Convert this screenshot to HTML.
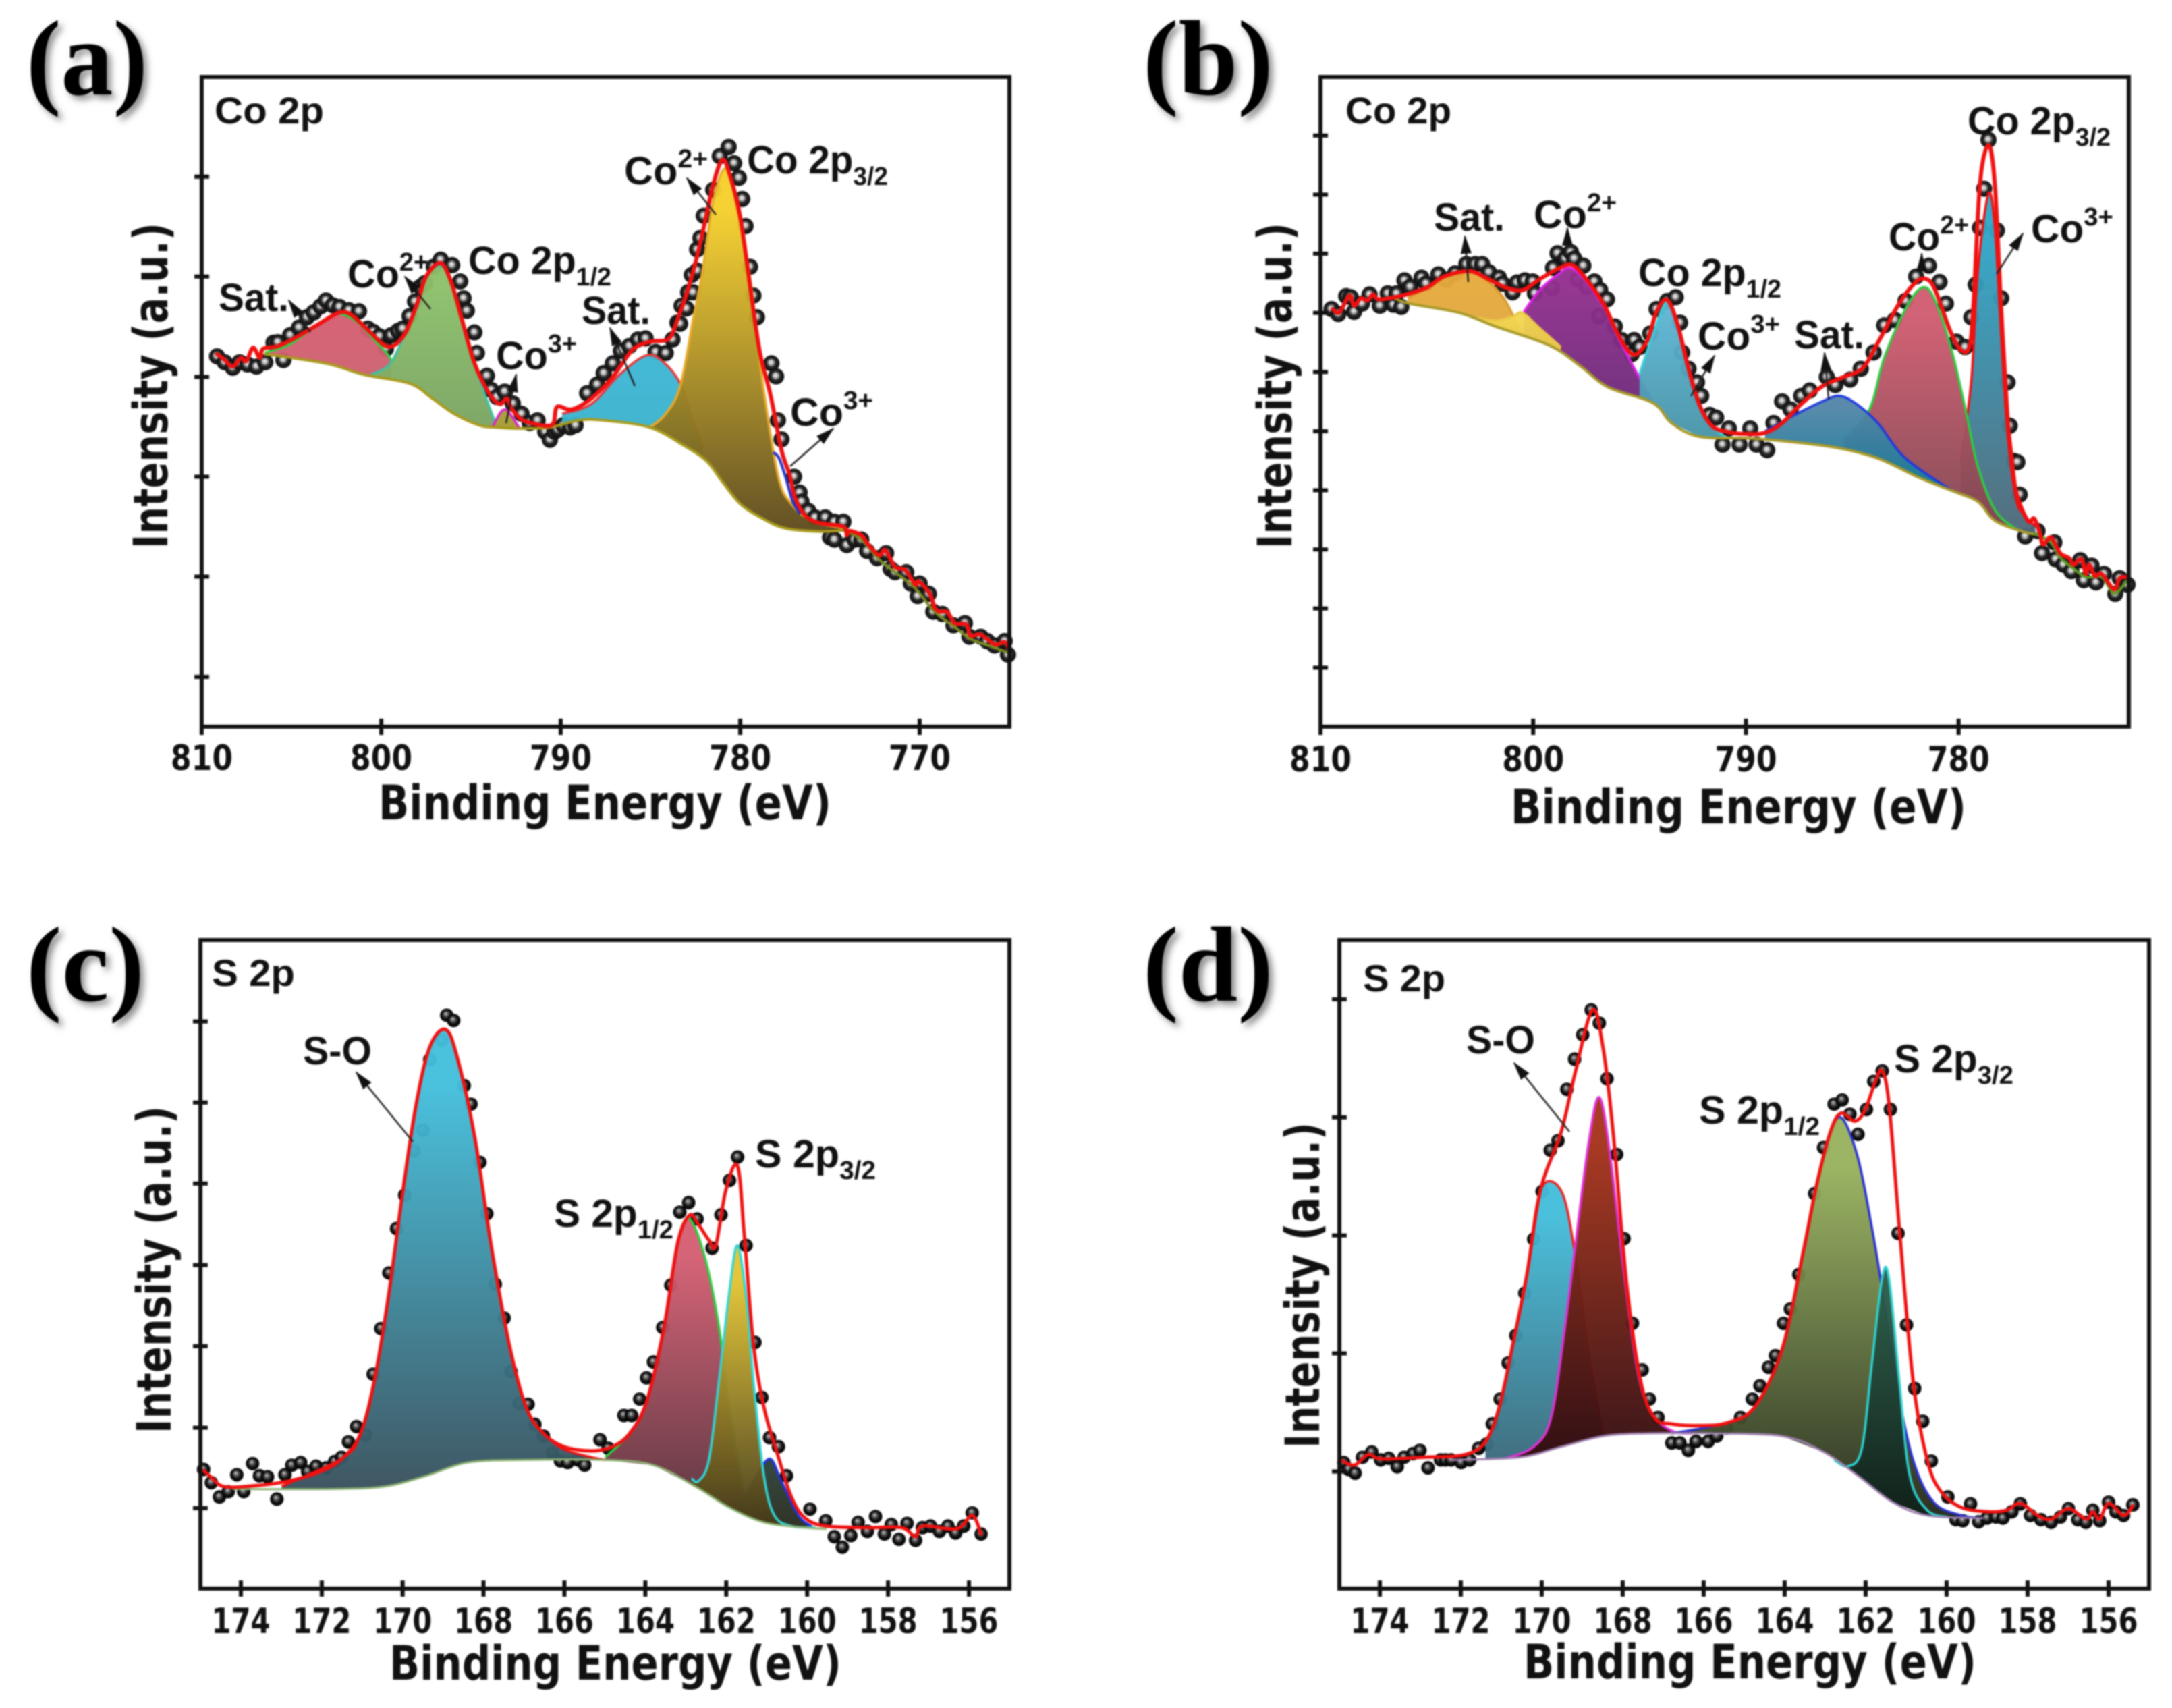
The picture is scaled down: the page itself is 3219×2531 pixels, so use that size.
<!DOCTYPE html>
<html lang="en">
<head>
<meta charset="utf-8">
<title>XPS spectra: Co 2p and S 2p</title>
<style>
html,body{margin:0;padding:0;background:#fff;}
body{width:3219px;height:2531px;overflow:hidden;}
svg{display:block;filter:blur(1.1px);}
.panel-letter{font-family:"Liberation Serif",serif;font-weight:700;font-size:159px;fill:#000;filter:url(#letter-shadow);}
.title{font-family:"Liberation Sans",sans-serif;font-weight:700;font-size:56px;fill:#111;}
.anno{font-family:"Liberation Sans",sans-serif;font-weight:700;font-size:58px;fill:#111;}
.small{font-size:38px;}
.axis-title{font-family:"DejaVu Sans",sans-serif;font-weight:700;font-size:70px;fill:#111;}
.tick-label{font-family:"DejaVu Sans",sans-serif;font-weight:700;font-size:52px;fill:#111;}
.arrow{stroke:#222;stroke-width:2.5;fill:none;marker-end:url(#arrow-head);}
</style>
</head>
<body>
<svg id="figure" xmlns="http://www.w3.org/2000/svg" width="3219" height="2531" viewBox="0 0 3219 2531">
<defs>
<filter id="letter-shadow" x="-20%" y="-20%" width="150%" height="150%"><feDropShadow dx="6" dy="6" stdDeviation="5" flood-color="#777" flood-opacity="0.85"/></filter>
<marker id="arrow-head" markerUnits="userSpaceOnUse" markerWidth="30" markerHeight="24" refX="26" refY="12" orient="auto"><path d="M0 4 L28 12 L0 20 Z" fill="#111"/></marker>
<radialGradient id="dot-gray" cx="50%" cy="50%" r="50%" fx="46%" fy="42%"><stop offset="0" stop-color="#f2f2f2"/><stop offset="0.28" stop-color="#bdbdbd"/><stop offset="0.55" stop-color="#2a2a2a"/><stop offset="1" stop-color="#0a0a0a"/></radialGradient>
<radialGradient id="dot-black" cx="50%" cy="50%" r="50%" fx="42%" fy="36%"><stop offset="0" stop-color="#cfcfcf"/><stop offset="0.35" stop-color="#555"/><stop offset="0.65" stop-color="#111"/><stop offset="1" stop-color="#000"/></radialGradient>
</defs>

<text class="panel-letter" x="39" y="140" textLength="180" lengthAdjust="spacingAndGlyphs">(a)</text>
<text class="panel-letter" x="1694" y="140" textLength="193" lengthAdjust="spacingAndGlyphs">(b)</text>
<text class="panel-letter" x="39" y="1483" textLength="175" lengthAdjust="spacingAndGlyphs">(c)</text>
<text class="panel-letter" x="1694" y="1483" textLength="193" lengthAdjust="spacingAndGlyphs">(d)</text>

<g id="plots"></g>

<!-- axis titles -->
<text class="axis-title" x="561" y="1214" textLength="671" lengthAdjust="spacingAndGlyphs">Binding Energy (eV)</text>
<text class="axis-title" x="2239" y="1220" textLength="675" lengthAdjust="spacingAndGlyphs">Binding Energy (eV)</text>
<text class="axis-title" x="577" y="2489" textLength="670" lengthAdjust="spacingAndGlyphs">Binding Energy (eV)</text>
<text class="axis-title" x="2258" y="2487" textLength="671" lengthAdjust="spacingAndGlyphs">Binding Energy (eV)</text>
<text class="axis-title" transform="translate(248,813) rotate(-90)" textLength="483" lengthAdjust="spacingAndGlyphs">Intensity (a.u.)</text>
<text class="axis-title" transform="translate(1914,813) rotate(-90)" textLength="483" lengthAdjust="spacingAndGlyphs">Intensity (a.u.)</text>
<text class="axis-title" transform="translate(253,2124) rotate(-90)" textLength="485" lengthAdjust="spacingAndGlyphs">Intensity (a.u.)</text>
<text class="axis-title" transform="translate(1955,2146) rotate(-90)" textLength="483" lengthAdjust="spacingAndGlyphs">Intensity (a.u.)</text>

<!-- panel a annotations -->
<g>
<text class="title" x="318" y="183" textLength="162" lengthAdjust="spacingAndGlyphs">Co 2p</text>
<text class="anno" x="324" y="461" textLength="104" lengthAdjust="spacingAndGlyphs">Sat.</text>
<text class="anno" x="515" y="426" textLength="120" lengthAdjust="spacingAndGlyphs">Co<tspan class="small" dy="-25">2+</tspan></text>
<text class="anno" x="694" y="406" textLength="212" lengthAdjust="spacingAndGlyphs">Co 2p<tspan class="small" dy="17">1/2</tspan></text>
<text class="anno" x="735" y="547" textLength="120" lengthAdjust="spacingAndGlyphs">Co<tspan class="small" dy="-25">3+</tspan></text>
<text class="anno" x="862" y="480" textLength="102" lengthAdjust="spacingAndGlyphs">Sat.</text>
<text class="anno" x="925" y="273" textLength="124" lengthAdjust="spacingAndGlyphs">Co<tspan class="small" dy="-25">2+</tspan></text>
<text class="anno" x="1107" y="257" textLength="209" lengthAdjust="spacingAndGlyphs">Co 2p<tspan class="small" dy="17">3/2</tspan></text>
<text class="anno" x="1171" y="631" textLength="123" lengthAdjust="spacingAndGlyphs">Co<tspan class="small" dy="-25">3+</tspan></text>
<line class="arrow" x1="460" y1="492" x2="428" y2="445"/>
<line class="arrow" x1="638" y1="458" x2="600" y2="410"/>
<line class="arrow" x1="750" y1="627" x2="765" y2="555"/>
<line class="arrow" x1="941" y1="572" x2="904" y2="486"/>
<line class="arrow" x1="1061" y1="318" x2="1018" y2="264"/>
<line class="arrow" x1="1171" y1="691" x2="1235" y2="635"/>
</g>

<!-- panel b annotations -->
<g>
<text class="title" x="1994" y="183" textLength="157" lengthAdjust="spacingAndGlyphs">Co 2p</text>
<text class="anno" x="2125" y="342" textLength="105" lengthAdjust="spacingAndGlyphs">Sat.</text>
<text class="anno" x="2273" y="338" textLength="123" lengthAdjust="spacingAndGlyphs">Co<tspan class="small" dy="-25">2+</tspan></text>
<text class="anno" x="2428" y="424" textLength="212" lengthAdjust="spacingAndGlyphs">Co 2p<tspan class="small" dy="17">1/2</tspan></text>
<text class="anno" x="2516" y="518" textLength="122" lengthAdjust="spacingAndGlyphs">Co<tspan class="small" dy="-25">3+</tspan></text>
<text class="anno" x="2659" y="516" textLength="104" lengthAdjust="spacingAndGlyphs">Sat.</text>
<text class="anno" x="2799" y="371" textLength="119" lengthAdjust="spacingAndGlyphs">Co<tspan class="small" dy="-25">2+</tspan></text>
<text class="anno" x="2916" y="199" textLength="212" lengthAdjust="spacingAndGlyphs">Co 2p<tspan class="small" dy="17">3/2</tspan></text>
<text class="anno" x="3010" y="359" textLength="122" lengthAdjust="spacingAndGlyphs">Co<tspan class="small" dy="-25">3+</tspan></text>
<line class="arrow" x1="2176" y1="418" x2="2171" y2="350"/>
<line class="arrow" x1="2323" y1="366" x2="2323" y2="338"/>
<line class="arrow" x1="2506" y1="587" x2="2541" y2="527"/>
<line class="arrow" x1="2710" y1="591" x2="2704" y2="523"/>
<line class="arrow" x1="2848" y1="404" x2="2848" y2="376"/>
<line class="arrow" x1="2959" y1="406" x2="2998" y2="346"/>
</g>

<!-- panel c annotations -->
<g>
<text class="title" x="314" y="1461" textLength="123" lengthAdjust="spacingAndGlyphs">S 2p</text>
<text class="anno" x="449" y="1577" textLength="102" lengthAdjust="spacingAndGlyphs">S-O</text>
<text class="anno" x="821" y="1818" textLength="177" lengthAdjust="spacingAndGlyphs">S 2p<tspan class="small" dy="17">1/2</tspan></text>
<text class="anno" x="1119" y="1730" textLength="179" lengthAdjust="spacingAndGlyphs">S 2p<tspan class="small" dy="17">3/2</tspan></text>
<line class="arrow" x1="612" y1="1692" x2="528" y2="1589"/>
</g>

<!-- panel d annotations -->
<g>
<text class="title" x="2020" y="1469" textLength="122" lengthAdjust="spacingAndGlyphs">S 2p</text>
<text class="anno" x="2173" y="1561" textLength="102" lengthAdjust="spacingAndGlyphs">S-O</text>
<text class="anno" x="2518" y="1665" textLength="179" lengthAdjust="spacingAndGlyphs">S 2p<tspan class="small" dy="17">1/2</tspan></text>
<text class="anno" x="2807" y="1589" textLength="177" lengthAdjust="spacingAndGlyphs">S 2p<tspan class="small" dy="17">3/2</tspan></text>
<line class="arrow" x1="2326" y1="1677" x2="2244" y2="1575"/>
</g>
</svg>

<script>
/* ---------- Panel A: Co 2p ---------- */
const aXTicks = [810, 800, 790, 780, 770];
const aYTicks = [1014, 830, 645, 461, 277, 92];
const aDotEnergy = [
809.15,808.72,808.27,807.89,807.45,806.95,806.46,806.0,805.76,805.45,
805.07,804.58,804.14,803.76,803.38,803.08,802.7,802.33,801.8,801.24,
800.75,800.45,800.1,799.74,799.44,799.06,798.8,798.42,798.12,797.82,
797.56,797.07,796.69,796.05,795.6,795.41,795.23,794.81,794.67,794.11,
793.87,793.55,793.12,792.67,792.18,791.73,791.29,790.86,790.6,790.35,
790.16,789.85,789.47,789.17,788.53,787.97,787.6,787.1,786.65,786.17,
785.7,785.27,784.71,784.15,783.77,783.5,783.35,783.27,783.0,782.9,
782.63,782.7,782.4,782.4,782.22,782.03,781.5,781.14,780.64,780.34,
780.08,779.89,779.7,779.45,779.26,779.07,778.26,778.0,777.9,777.7,
777.0,776.69,776.58,776.2,775.83,775.26,774.75,774.25,774.99,774.75,
774.06,773.62,773.25,772.93,772.37,771.87,771.62,771.37,770.75,770.49,
770.0,770.11,769.49,769.24,768.74,768.12,767.48,767.23,766.6,766.24,
765.83,765.26,765.08];
const aDotValue = [
683,672,662,672,668,664,672,708,709,676,
722,736,755,764,775,786,777,774,768,766,
734,728,720,697,722,730,734,757,784,811,
818,848,861,851,821,790,767,727,689,647,
621,608,618,596,577,560,565,544,529,544,
548,556,552,556,615,631,652,670,693,702,
714,716,691,689,714,745,743,776,771,801,
801,833,841,880,901,942,990,1052,1069,1039,
1012,973,923,848,795,755,670,646,565,530,
461,432,415,398,386,386,378,378,349,345,
335,345,345,324,311,320,291,285,285,264,
264,241,245,212,208,187,191,166,166,158,
150,158,133];
const aFitEnergy = [
809.15,808.77,808.27,807.83,807.52,807.14,806.77,806.58,805.83,804.96,
803.6,802.4,801.7,800.7,799.8,799.2,798.6,798.0,797.5,796.7,
796.1,795.5,794.8,794.0,793.4,793.0,792.7,792.1,790.9,790.4,
790.2,789.4,788.3,787.1,786.0,785.0,784.0,783.5,782.7,782.1,
781.5,781.0,780.6,780.0,779.4,778.9,778.3,777.7,777.25,776.95,
776.39,775.63,774.25,774.06,773.94,773.25,772.86,772.25,771.93,771.37,
770.8,770.24,770.05,769.43,769.17,768.86,768.47,768.04,767.41,767.17,
766.6,765.83,765.26,765.0];
const aFitValue = [
687,678,664,680,674,699,680,697,701,714,
740,763,760,730,703,705,730,780,830,855,
820,750,670,615,595,605,585,565,555,560,
590,585,605,645,695,710,715,750,830,910,
1000,1045,1020,940,800,690,610,510,465,423,
390,376,369,353,361,353,336,316,326,295,
289,262,268,245,220,212,212,191,189,168,
170,152,156,142];
const aBaseEnergy = [806.47,804.96,802.82,800.94,798.42,797.18,795.94,794.55,793.6,792.1,790.6,789.0,787.67,785.04,783.16,781.88,781.0,780.0,778.76,777.5,775.63,774.25];
const aBaseValue = [687,680,668,649,633,606,577,556,552,550,552,565,565,552,519,490,452,411,384,366,360,362];
const aTailEnergy = [774.25,773.25,772.25,771.37,770.24,769.17,768.04,767.17,765.83,765.0];
const aTailValue = [362,345,308,285,255,212,184,162,146,136];
const aPeak1Energy = [806.47,805.1,803.6,802.4,801.3,800.3,799.6,799.44];
const aPeak1Value = [690,705,740,761,745,710,685,672];
const aPeak2Energy = [800.56,800.0,799.44,798.8,798.0,797.5,796.7,796.1,795.5,794.8,794.2,793.6];
const aPeak2Value = [650,657,672,715,780,830,850,820,750,670,610,556];
const aPeak3Energy = [793.8,793.12,792.29];
const aPeak3Value = [553,585,550];
const aPeak4Energy = [789.92,788.3,786.7,785.2,784.2,783.3,782.7,782.1];
const aPeak4Value = [577,595,650,685,670,630,570,515];
const aPeak5Energy = [785.04,784.2,783.35,782.6,782.1,781.5,780.8,780.2,779.44,779.0,778.68,778.08,777.7,777.25,776.6,775.63,774.25];
const aPeak5Value = [552,575,627,755,840,970,1030,960,826,702,618,494,440,415,392,375,366];
const aPeak6Energy = [778.1,777.82,777.44,777.07,776.69];
const aPeak6Value = [505,494,457,415,394];

/* ---------- Panel B: Co 2p ---------- */
const bXTicks = [810, 800, 790, 780];
const bYTicks = [1090, 981, 872, 763, 654, 545, 436, 327, 218, 109];
const bDotEnergy = [
809.48,809.16,808.79,808.58,808.42,808.05,807.69,807.21,806.84,806.57,
806.42,806.2,806.05,805.78,805.25,805.04,804.46,804.09,803.67,803.14,
802.72,802.4,802.08,801.61,801.45,800.97,800.76,800.39,800.02,799.92,
799.12,799.07,798.86,798.49,798.23,798.07,797.91,797.64,797.49,797.12,
796.9,796.85,796.53,796.16,795.85,795.37,795.26,795.0,794.5,794.2,
793.7,793.3,793.1,793.0,792.7,792.3,792.1,791.7,791.4,791.1,
790.8,790.3,789.8,789.5,789.0,788.7,788.3,787.9,787.4,787.0,
786.2,785.8,785.1,784.6,784.0,783.5,783.0,782.5,782.0,781.4,
780.9,780.6,780.1,779.7,779.4,779.2,779.0,778.8,778.6,778.2,
778.0,777.7,777.6,777.4,777.24,777.13,776.87,776.29,776.08,775.5,
775.44,775.07,774.7,774.28,774.12,773.75,773.54,773.17,772.64,772.43,
772.06];
const bDotValue = [
770,761,794,792,765,780,797,776,799,778,
799,774,823,811,828,817,834,824,836,853,
853,853,838,828,817,801,819,823,821,799,
809,846,873,863,875,863,825,850,811,821,
757,805,788,738,713,687,713,700,725,770,
785,792,745,690,660,635,610,575,570,520,
550,520,550,520,510,560,600,585,610,620,
645,630,640,660,690,740,750,785,830,850,
820,780,710,700,755,815,920,992,1082,915,
790,635,555,490,488,428,351,361,320,340,
309,299,287,307,270,297,266,282,245,274,
262];
const bFitEnergy = [
809.43,809.11,808.64,808.42,808.11,807.79,807.53,807.27,806.52,805.78,
804.93,804.2,803.0,802.1,801.3,800.5,799.7,798.8,798.2,797.6,
796.7,796.1,795.5,795.1,794.6,794.2,793.7,793.2,792.7,792.2,
791.6,790.8,790.0,789.1,788.3,787.4,786.4,785.4,784.5,783.7,
782.8,782.0,781.5,781.1,780.4,779.9,779.5,779.3,779.0,778.6,
778.3,778.0,777.7,777.5,777.35,777.13,776.71,776.45,776.18,776.03,
775.66,775.23,774.81,774.6,774.23,774.02,773.86,773.59,773.28,772.69,
772.43,772.11];
const bFitValue = [
770,764,795,776,790,786,797,788,792,799,
811,830,840,825,810,805,825,845,852,830,
780,730,692,688,715,765,787,740,660,595,
555,543,540,542,560,595,628,645,662,715,
780,820,825,805,730,695,700,780,1000,1072,
1000,770,570,494,444,411,378,384,357,336,
349,320,311,299,309,282,299,278,282,253,
274,276];
const bBaseEnergy = [806.52,805.78,803.46,801.77,799.23,797.75,796.48,794.37,793.5,792.2,790.0,788.3,785.8,783.8,781.9,780.3,779.1,778.3,777.0,776.4];
const bBaseValue = [790,780,763,738,703,664,626,597,560,535,532,527,515,495,460,435,415,380,360,355];
const bTailEnergy = [776.4,775.66,775.23,774.6,774.02,773.28,772.69,772.11];
const bTailValue = [355,340,312,292,276,276,246,268];
const bPeak1Energy = [805.9,804.93,804.2,803.0,802.1,801.3,800.5];
const bPeak1Value = [790,811,830,840,820,785,720];
const bPeak3Energy = [800.44,799.7,798.8,798.28,797.6,796.7,796.1,795.11,794.37];
const bPeak3Value = [765,805,835,846,825,775,725,651,600];
const bPeak2Energy = [802.82,801.9,801.45,800.92,800.5,799.7,798.7];
const bPeak2Value = [755,749,751,757,763,735,700];
const bPeak4Energy = [795.0,794.4,793.7,793.2,792.7,792.2,791.6,791.0];
const bPeak4Value = [650,720,785,740,660,595,555,535];
const bPeak6Energy = [779.9,779.4,779.1,778.6,778.3,778.0,777.7,777.3,776.9,776.4];
const bPeak6Value = [490,640,840,982,920,720,540,420,390,370];
const bPeak5Energy = [785.4,784.2,783.5,782.5,781.7,781.1,780.3,779.6,779.1,778.3,777.3,776.5];
const bPeak5Value = [530,585,680,770,810,785,690,570,480,400,365,355];
const bPeak7Energy = [789.1,787.7,786.4,785.6,784.8,783.8,782.5,780.3];
const bPeak7Value = [545,575,600,610,595,560,495,435];

/* ---------- Panel C: S 2p ---------- */
const cXTicks = [174, 172, 170, 168, 166, 164, 162, 160, 158, 156];
const cYTicks = [1071, 918, 765, 611, 458, 304, 152];
const cDotEnergy = [174.92,174.73,174.53,174.31,174.10,173.93,173.71,173.54,173.34,173.11,172.91,172.74,172.52,172.35,172.14,171.89,171.68,171.51,171.34,171.14,170.92,170.73,170.54,170.34,170.15,169.95,169.72,169.50,169.33,169.04,168.91,168.74,168.48,168.31,168.09,167.92,167.71,167.49,167.32,167.12,166.90,166.73,166.52,166.30,166.10,165.92,165.67,165.50,165.12,164.92,164.53,164.34,164.14,163.97,163.80,163.57,163.37,163.15,162.93,162.72,162.35,162.13,161.92,161.72,161.51,161.29,161.12,160.93,160.71,160.51,159.93,159.54,159.33,159.13,158.92,158.74,158.51,158.31,158.09,157.92,157.73,157.53,157.32,157.15,156.95,156.73,156.52,156.33,156.13,155.92,155.70];
const cDotValue = [225,200,173,183,215,183,236,213,211,169,215,233,238,221,231,228,240,248,277,306,290,405,491,596,680,743,827,866,999,1036,1083,1073,950,915,805,708,575,511,410,350,348,310,288,256,241,238,243,233,281,265,327,327,358,398,428,493,573,711,729,698,643,706,771,815,648,465,361,285,268,213,150,128,98,78,100,125,108,136,103,121,93,123,91,115,118,108,118,105,118,143,103];
const cFitEnergy = [174.92,174.70,174.44,173.85,172.82,171.97,171.46,171.04,170.70,170.35,170.01,169.67,169.33,168.94,168.65,168.22,167.80,167.37,166.95,166.52,166.01,165.33,164.82,164.39,163.97,163.54,163.20,162.91,162.69,162.43,162.26,162.01,161.72,161.55,161.33,161.07,160.73,160.39,160.05,159.54,158.51,157.66,157.32,157.15,156.30,155.92,155.70];
const cFitValue = [223,208,193,193,203,223,248,293,393,553,743,913,1023,1056,1003,853,643,463,343,293,268,260,268,293,353,493,653,705,688,658,648,753,798,663,463,343,253,173,133,118,115,115,98,118,113,138,103];
const cBaseEnergy = [174.19,171.80,170.44,169.42,168.40,167.03,164.99,163.80,162.77,161.92,161.07,160.05,159.54];
const cBaseValue = [188,188,193,213,238,243,243,233,193,153,125,115,113];
const cPeak1Energy = [172.99,171.46,171.04,170.70,170.35,170.01,169.67,169.33,168.94,168.65,168.22,167.80,167.37,166.95,166.52,166.01,165.33,164.99];
const cPeak1Value = [193,248,293,393,553,743,913,1023,1056,1003,853,643,463,343,293,263,248,243];
const cPeak2Energy = [164.99,164.39,163.97,163.54,163.20,162.91,162.52,162.18,161.92,161.58,161.33];
const cPeak2Value = [248,293,353,493,653,698,623,493,343,193,143];
const cPeak3Energy = [161.67,161.33,160.93,160.64,160.22,159.88];
const cPeak3Value = [158,203,245,203,138,117];
const cPeak4Energy = [162.86,162.69,162.43,162.18,161.92,161.72,161.50,161.33,161.07,160.81,160.39,159.79];
const cPeak4Value = [208,203,243,393,563,648,543,393,213,138,118,115];

/* ---------- Panel D: S 2p ---------- */
const dXTicks = [174, 172, 170, 168, 166, 164, 162, 160, 158, 156];
const dYTicks = [1113, 890, 667, 444, 221];
const dDotEnergy = [174.89,174.77,174.61,174.43,174.20,173.98,173.78,173.57,173.40,173.18,173.01,172.81,172.50,172.38,172.24,171.99,171.78,171.56,171.36,171.22,171.03,170.83,170.64,170.42,170.20,169.99,169.79,169.60,169.38,169.19,168.99,168.78,168.58,168.39,168.15,167.97,167.76,167.52,167.34,167.13,166.79,166.59,166.38,166.19,165.89,165.68,165.43,165.09,164.80,164.61,164.40,164.23,164.03,163.86,163.65,163.26,163.04,162.78,162.58,162.39,162.19,161.98,161.80,161.59,161.39,161.20,160.99,160.79,160.59,160.38,159.97,159.77,159.60,159.41,159.21,159.00,158.78,158.61,158.39,158.18,157.93,157.67,157.42,157.19,156.99,156.76,156.56,156.39,156.22,156.00,155.82,155.63,155.40];
const dDotValue = [238,225,218,248,258,243,246,230,248,255,261,228,243,243,243,238,243,265,273,311,358,426,478,558,660,750,828,846,943,1000,1046,1093,1068,963,820,661,501,413,358,323,275,275,261,278,278,288,303,323,358,383,418,440,501,528,593,746,833,915,923,896,858,905,958,978,905,671,498,378,316,241,173,130,128,160,126,133,135,133,145,160,138,130,125,135,151,130,125,148,128,163,145,138,158];
const dFitEnergy = [174.97,174.63,174.29,173.95,172.93,171.90,171.39,171.05,170.71,170.37,170.03,169.52,169.18,168.75,168.49,168.24,167.90,167.56,167.22,166.79,166.11,165.43,164.74,164.06,163.55,163.21,162.87,162.61,162.27,162.02,161.76,161.59,161.42,161.17,160.83,160.48,160.14,159.63,158.95,158.52,158.18,157.75,157.42,156.99,156.56,156.39,156.22,156.00,155.63,155.40];
const dFitValue = [243,233,253,245,248,253,278,343,463,593,753,863,973,1093,1023,863,573,393,323,311,308,313,343,453,633,763,863,898,883,903,958,978,913,683,393,243,183,153,145,148,161,138,131,151,131,145,131,161,138,156];
const dBaseEnergy = [172.24,170.54,169.52,168.49,167.47,165.77,164.06,163.04,162.19,161.33,160.48,159.12];
const dBaseValue = [243,248,268,288,293,293,288,258,213,163,138,133];
const dPeak1Energy = [171.39,171.05,170.71,170.37,170.03,169.52,169.18,168.84,168.49];
const dPeak1Value = [273,343,463,593,753,751,633,443,293];
const dPeak2Energy = [170.88,170.20,169.77,169.43,169.18,168.84,168.58,168.32,167.98,167.64,167.30,166.79,166.28];
const dPeak2Value = [246,268,323,493,643,843,928,823,603,413,333,298,293];
const dPeak3Energy = [166.79,165.43,164.74,164.06,163.55,163.21,162.87,162.58,162.19,161.85,161.63,161.25,160.83,160.32,159.63,159.12];
const dPeak3Value = [293,313,343,453,633,763,863,888,813,683,583,393,243,163,138,133];
const dPeak4Energy = [162.78,162.44,162.10,161.85,161.59,161.42,161.17,160.91,160.48,159.97];
const dPeak4Value = [243,231,263,423,588,583,393,213,148,135];

/* ---------- Drawing ---------- */
const SVG_NS = 'http://www.w3.org/2000/svg';
const plots = document.getElementById('plots');
const defs = document.querySelector('#figure defs');
let gradientCount = 0;

function make(tag, parent, attrs) {
  const el = document.createElementNS(SVG_NS, tag);
  for (const k in attrs) el.setAttribute(k, attrs[k]);
  parent.appendChild(el);
  return el;
}

function smoothPath(pts) {
  let d = 'M' + pts[0][0].toFixed(1) + ' ' + pts[0][1].toFixed(1);
  for (let i = 0; i < pts.length - 1; i++) {
    const p0 = pts[Math.max(i - 1, 0)];
    const p1 = pts[i];
    const p2 = pts[i + 1];
    const p3 = pts[Math.min(i + 2, pts.length - 1)];
    const c1x = p1[0] + (p2[0] - p0[0]) / 6;
    const c1y = p1[1] + (p2[1] - p0[1]) / 6;
    const c2x = p2[0] - (p3[0] - p1[0]) / 6;
    const c2y = p2[1] - (p3[1] - p1[1]) / 6;
    d += 'C' + c1x.toFixed(1) + ' ' + c1y.toFixed(1) + ' ' + c2x.toFixed(1) + ' ' + c2y.toFixed(1) + ' ' + p2[0].toFixed(1) + ' ' + p2[1].toFixed(1);
  }
  return d;
}

function createPanel(id, box, xDomain, vMax, tickBaseline, tickWidth) {
  const g = make('g', plots, {});
  
  
  const xScale = e => box.left + (xDomain[0] - e) / (xDomain[0] - xDomain[1]) * (box.right - box.left);
  const yScale = v => box.bottom - v / vMax * (box.bottom - box.top);
  return { id, box, g, xScale, yScale, tickBaseline, tickWidth };
}

function drawDots(panel, energy, value, radius, fill) {
  const group = make('g', panel.g, {});
  
  
  energy.forEach((e, i) => {
    const c = make('circle', group, { cx: panel.xScale(e), cy: panel.yScale(value[i]), r: radius, fill: 'url(#' + fill + ')' });
    
    
  });
}

function drawPeak(panel, name, energy, value, baseE, baseV, colorTop, colorBottom, strokeColor) {
  const gid = 'peak-gradient-' + (++gradientCount);
  const grad = make('linearGradient', defs, { id: gid, x1: 0, y1: 0, x2: 0, y2: 1 });
  make('stop', grad, { offset: 0.12, 'stop-color': colorTop });
  make('stop', grad, { offset: 1, 'stop-color': colorBottom });
  const pts = energy.map((e, i) => [panel.xScale(e), panel.yScale(value[i])]);
  const hi = energy[0];
  const lo = energy[energy.length - 1];
  const baseAt = e => {
    for (let i = 0; i < baseE.length - 1; i++) {
      if (e <= baseE[i] && e >= baseE[i + 1]) {
        return baseV[i] + (e - baseE[i]) / (baseE[i + 1] - baseE[i]) * (baseV[i + 1] - baseV[i]);
      }
    }
    return e > baseE[0] ? baseV[0] : baseV[baseV.length - 1];
  };
  let d = smoothPath(pts);
  d += 'L' + panel.xScale(lo).toFixed(1) + ' ' + panel.yScale(baseAt(lo)).toFixed(1);
  for (let i = baseE.length - 1; i >= 0; i--) {
    if (baseE[i] > lo && baseE[i] < hi) d += 'L' + panel.xScale(baseE[i]).toFixed(1) + ' ' + panel.yScale(baseV[i]).toFixed(1);
  }
  d += 'L' + panel.xScale(hi).toFixed(1) + ' ' + panel.yScale(baseAt(hi)).toFixed(1) + 'Z';
  const area = make('path', panel.g, { d: d, fill: 'url(#' + gid + ')', 'fill-opacity': 0.96 });
  
  
  const edge = make('path', panel.g, { d: smoothPath(pts), fill: 'none', stroke: strokeColor, 'stroke-width': 3.5 });
  
  
}

function drawLine(panel, name, energy, value, color, width) {
  const pts = energy.map((e, i) => [panel.xScale(e), panel.yScale(value[i])]);
  const line = make('path', panel.g, { d: smoothPath(pts), fill: 'none', stroke: color, 'stroke-width': width, 'stroke-linejoin': 'round', 'stroke-linecap': 'round' });
  
  
}

function drawAxes(panel, xTicks, yTicks) {
  const b = panel.box;
  const frame = make('rect', panel.g, { x: b.left, y: b.top, width: b.right - b.left, height: b.bottom - b.top, fill: 'none', stroke: '#111', 'stroke-width': 6 });
  
  
  xTicks.forEach(t => {
    const px = panel.xScale(t);
    const tick = make('line', panel.g, { x1: px, x2: px, y1: b.bottom - 12, y2: b.bottom + 12, stroke: '#111', 'stroke-width': 6 });
    
    
    const label = make('text', panel.g, { x: px, y: panel.tickBaseline, 'text-anchor': 'middle', class: 'tick-label', textLength: panel.tickWidth, lengthAdjust: 'spacingAndGlyphs' });
    
    
    label.textContent = String(t);
  });
  yTicks.forEach(t => {
    const py = panel.yScale(t);
    const tick = make('line', panel.g, { x1: b.left - 11, x2: b.left + 11, y1: py, y2: py, stroke: '#111', 'stroke-width': 6 });
    
    
  });
}

/* Panel A */
const panelA = createPanel('a', { left: 299, right: 1496, top: 114, bottom: 1077 }, [810, 765], 1198, 1141, 92);
drawDots(panelA, aDotEnergy, aDotValue, 12, 'dot-gray');
drawPeak(panelA, 'sat-1', aPeak1Energy, aPeak1Value, aBaseEnergy, aBaseValue, '#d65d72', '#cc6270', '#2fcf3f');
drawPeak(panelA, 'co2-1', aPeak2Energy, aPeak2Value, aBaseEnergy, aBaseValue, '#8cc06a', '#7aa462', '#40c0a0');
drawPeak(panelA, 'co3-1', aPeak3Energy, aPeak3Value, aBaseEnergy, aBaseValue, '#a8a036', '#a89a35', '#e020d0');
drawPeak(panelA, 'sat-2', aPeak4Energy, aPeak4Value, aBaseEnergy, aBaseValue, '#3db6d4', '#3ab0ca', '#e8383a');
drawPeak(panelA, 'co2-2', aPeak5Energy, aPeak5Value, aBaseEnergy, aBaseValue, '#f5cf2c', '#5c4a1c', '#e8a92a');
drawLine(panelA, 'co3-edge', aPeak6Energy, aPeak6Value, '#2233d0', 4);
drawLine(panelA, 'background-line', aBaseEnergy, aBaseValue, '#a89a1c', 4);
drawLine(panelA, 'background-tail', aTailEnergy, aTailValue, '#7a8a20', 4);
drawLine(panelA, 'fit-line', aFitEnergy, aFitValue, '#f01010', 6);
drawAxes(panelA, aXTicks, aYTicks);

/* Panel B */
const panelB = createPanel('b', { left: 1957, right: 3155, top: 114, bottom: 1077 }, [810, 772], 1198, 1143, 92);
drawDots(panelB, bDotEnergy, bDotValue, 12, 'dot-gray');
drawPeak(panelB, 'sat-1', bPeak1Energy, bPeak1Value, bBaseEnergy, bBaseValue, '#e6aa3c', '#e2a840', '#d89a30');
drawPeak(panelB, 'co2-1', bPeak3Energy, bPeak3Value, bBaseEnergy, bBaseValue, '#92308f', '#6e2a7a', '#e020e8');
drawPeak(panelB, 'sat-1-tail', bPeak2Energy, bPeak2Value, bBaseEnergy, bBaseValue, '#f3d652', '#e8c848', '#ecc848');
drawPeak(panelB, 'co3-1', bPeak4Energy, bPeak4Value, bBaseEnergy, bBaseValue, '#5cb4d2', '#4894a8', '#36d0d8');
drawPeak(panelB, 'co3-2', bPeak6Energy, bPeak6Value, bBaseEnergy, bBaseValue, '#30a6c8', '#4f6878', '#f01010');
drawPeak(panelB, 'co2-2', bPeak5Energy, bPeak5Value, bBaseEnergy, bBaseValue, '#d05c70', '#7e4650', '#2ecc40');
drawPeak(panelB, 'sat-2', bPeak7Energy, bPeak7Value, bBaseEnergy, bBaseValue, '#5286a8', '#127a98', '#2038e0');
drawLine(panelB, 'background-line', bBaseEnergy, bBaseValue, '#a89a2a', 4);
drawLine(panelB, 'background-tail', bTailEnergy, bTailValue, '#5a9a20', 4);
drawLine(panelB, 'fit-line', bFitEnergy, bFitValue, '#f01010', 6);
drawAxes(panelB, bXTicks, bYTicks);

/* Panel C */
const panelC = createPanel('c', { left: 297, right: 1496, top: 1393, bottom: 2354 }, [175, 155], 1225, 2420, 87);
drawDots(panelC, cDotEnergy, cDotValue, 10, 'dot-black');
drawPeak(panelC, 's-o', cPeak1Energy, cPeak1Value, cBaseEnergy, cBaseValue, '#43bfdc', '#38505c', '#f01010');
drawPeak(panelC, 's2p12', cPeak2Energy, cPeak2Value, cBaseEnergy, cBaseValue, '#d55e72', '#55303a', '#2ecc40');
drawPeak(panelC, 'small', cPeak3Energy, cPeak3Value, cBaseEnergy, cBaseValue, '#2c4038', '#2a2a1c', '#2030e0');
drawPeak(panelC, 's2p32', cPeak4Energy, cPeak4Value, cBaseEnergy, cBaseValue, '#e2c432', '#42381a', '#2fd6d8');
drawLine(panelC, 'background-line', cBaseEnergy, cBaseValue, '#8ab070', 3);
drawLine(panelC, 'fit-line', cFitEnergy, cFitValue, '#f01010', 5);
drawAxes(panelC, cXTicks, cYTicks);

/* Panel D */
const panelD = createPanel('d', { left: 1985, right: 3185, top: 1393, bottom: 2354 }, [175, 155], 1225, 2420, 87);
drawDots(panelD, dDotEnergy, dDotValue, 10, 'dot-black');
drawPeak(panelD, 's-o-1', dPeak1Energy, dPeak1Value, dBaseEnergy, dBaseValue, '#44bedb', '#3a6a7c', '#f02020');
drawPeak(panelD, 's-o-2', dPeak2Energy, dPeak2Value, dBaseEnergy, dBaseValue, '#a6321a', '#320c10', '#e030d8');
drawPeak(panelD, 's2p12', dPeak3Energy, dPeak3Value, dBaseEnergy, dBaseValue, '#98b25e', '#22281a', '#2a30d0');
drawPeak(panelD, 's2p32', dPeak4Energy, dPeak4Value, dBaseEnergy, dBaseValue, '#2a5a48', '#10201a', '#2fd0d0');
drawLine(panelD, 'background-line', dBaseEnergy, dBaseValue, '#a080b0', 3);
drawLine(panelD, 'fit-line', dFitEnergy, dFitValue, '#f01010', 5);
drawAxes(panelD, dXTicks, dYTicks);
</script>
</body>
</html>
